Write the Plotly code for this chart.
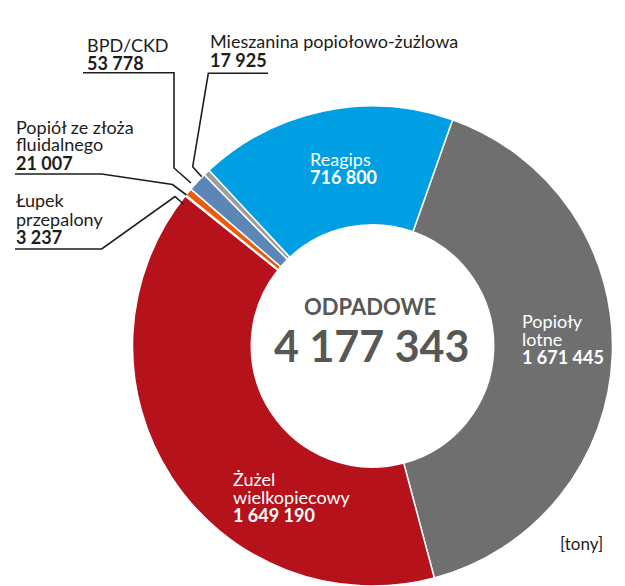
import plotly.graph_objects as go

W, H = 625, 586

# ---- data ----
categories = ["Popioły lotne", "Żużel wielkopiecowy", "Łupek przepalony",
              "Popiół ze złoża fluidalnego", "BPD/CKD",
              "Mieszanina popiołowo-żużlowa", "Reagips"]
values = [1671445, 1649190, 3237, 21007, 53778, 17925, 716800]
colors = ["#706f6f", "#b5121b", "#1d1d1b", "#ea5b0c", "#5b86b5", "#9d9d9c", "#009fe3"]
total_label = "4 177 343"
center_title = "ODPADOWE"
unit_label = "[tony]"

def px(x):
    return x / W

def py(y):
    return 1 - y / H

fig = go.Figure(go.Pie(
    labels=categories, values=values, sort=False, direction="clockwise",
    rotation=19.5, hole=0.505, textinfo="none", hoverinfo="label+value",
    marker=dict(colors=colors, line=dict(color="white", width=1.5)),
    domain=dict(x=[132.5 / W, 612.5 / W], y=[0, 480 / H]),
    showlegend=False,
))

FONT = "Lato"
DARK = "#1d1d1b"
ann = []

def label(x, y, text, color=DARK, size=18, bold=False, anchor="left"):
    t = f"<b>{text}</b>" if bold else text
    ann.append(dict(x=px(x), y=py(y), xref="paper", yref="paper", text=t,
                    showarrow=False, xanchor=anchor, yanchor="middle",
                    borderpad=0,
                    font=dict(family=FONT, size=size, color=color)))

# slice labels (inside)
label(309.3, 159.2, "Reagips", "white")
label(309.3, 176.8, "716 800", "white", bold=True)
label(520.7, 320.8, "Popioły", "white")
label(520.7, 338.5, "lotne", "white")
label(520.7, 356.8, "1 671 445", "white", bold=True)
label(232.3, 478.5, "Żużel", "white")
label(232.3, 496.5, "wielkopiecowy", "white")
label(232.3, 514.5, "1 649 190", "white", bold=True)

# outside labels
label(86, 45.2, "BPD/CKD")
label(86, 62.8, "53 778", bold=True)
label(209.3, 40.8, "Mieszanina popiołowo-żużlowa")
label(209.3, 59.5, "17 925", bold=True)
label(15, 126.8, "Popiół ze złoża")
label(15, 144.2, "fluidalnego")
label(15, 163.0, "21 007", bold=True)
label(15, 200.3, "Łupek")
label(15, 218.7, "przepalony")
label(15, 236.7, "3 237", bold=True)
label(559.3, 543.5, unit_label, size=17)

# centre
label(370, 306.7, center_title, "#575756", size=22, bold=True, anchor="center")
label(371, 345, total_label, "#575756", size=43, bold=True, anchor="center")

# leader lines
leaders = [
    [(268, 73.3), (208.3, 73.3), (192.7, 166.7), (201.7, 176.7)],
    [(83, 72.7), (174, 72.7), (174, 168), (191, 183)],
    [(15, 174), (101.7, 174), (172.5, 184.5), (186.5, 195)],
    [(15, 249), (101.7, 249), (175, 196.5), (184, 204.5)],
]
shapes = []
for pts in leaders:
    path = "M " + " L ".join(f"{px(a):.5f},{py(b):.5f}" for a, b in pts)
    shapes.append(dict(type="path", path=path, xref="paper", yref="paper",
                       line=dict(color=DARK, width=1.6)))

fig.update_layout(
    width=W, height=H, margin=dict(l=0, r=0, t=0, b=0),
    paper_bgcolor="white", plot_bgcolor="white",
    annotations=ann, shapes=shapes,
    font=dict(family=FONT),
)

fig.write_html("out.html", config={"displayModeBar": False},
               post_script="document.body.style.margin='0px';document.body.style.overflow='hidden';")
